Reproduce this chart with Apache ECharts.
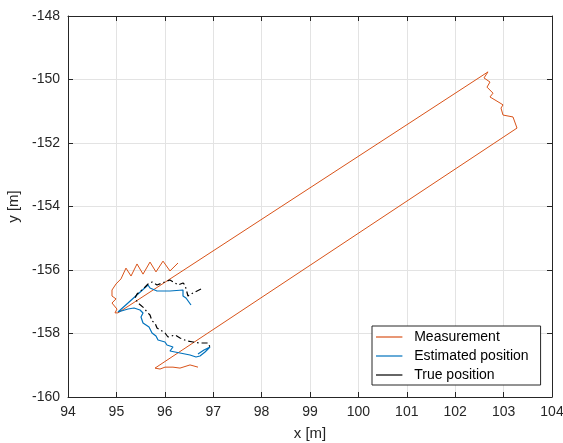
<!DOCTYPE html>
<html>
<head>
<meta charset="utf-8">
<script src="https://cdn.jsdelivr.net/npm/echarts@6/dist/echarts.min.js"></script>
<style>
  html, body { margin: 0; padding: 0; background: #fff; }
  #trackChart { width: 563px; height: 443px; }
</style>
</head>
<body>
<div id="trackChart"></div>
<script>
// measurement trace (x, y in metres)
const measX = [96.273, 96.107, 95.963, 95.818, 95.694, 95.550, 95.426, 95.302, 95.198, 95.095,
  94.992, 94.909, 94.909, 94.992, 94.909, 95.012, 94.971, 95.033,
  102.678, 102.595, 102.719, 102.657, 102.781, 102.719, 102.926, 102.988, 102.946, 102.988,
  103.194, 103.277, 103.277,
  95.798, 95.901, 96.004, 96.045, 96.169, 96.314, 96.521, 96.686]
const measY = [-155.78, -156.03, -155.72, -156.06, -155.75, -156.13, -155.81, -156.19, -155.94, -156.28,
  -156.44, -156.63, -156.82, -156.91, -157.04, -157.23, -157.35, -157.35,
  -149.76, -149.95, -150.08, -150.24, -150.43, -150.55, -150.74, -150.80, -150.90, -151.12,
  -151.18, -151.53, -151.59,
  -159.09, -159.12, -159.06, -159.09, -159.06, -159.09, -158.99, -159.06]

// estimated position
const estX = [96.541, 96.438, 96.376, 96.376, 96.107, 95.839, 95.694, 95.653, 95.033, 95.240,
  95.364, 95.488, 95.550, 95.508, 95.550, 95.674, 95.736, 95.818, 95.860, 96.004,
  96.045, 96.169, 96.107, 96.314, 96.521, 96.645, 96.727, 96.831, 96.934, 96.810, 96.686]
const estY = [-157.102, -156.882, -156.819, -156.630, -156.661, -156.661, -156.567, -156.472, -157.323, -157.228,
  -157.197, -157.260, -157.354, -157.480, -157.669, -157.795, -157.984, -158.079, -158.205, -158.268,
  -158.362, -158.425, -158.551, -158.614, -158.677, -158.740, -158.709, -158.583, -158.425, -158.520, -158.646]

// true position
const trueX = [96.748, 96.583, 96.479, 96.417, 96.376, 96.273, 96.211, 96.107, 95.942, 95.839,
  95.736, 95.653, 95.550, 95.426, 95.384, 95.446, 95.570, 95.632, 95.694, 95.736,
  95.798, 95.839, 95.942, 96.004, 96.066, 96.211, 96.314, 96.459, 96.583, 96.727, 96.893, 96.934]
const trueY = [-156.598, -156.724, -156.819, -156.472, -156.409, -156.472, -156.409, -156.315, -156.409, -156.472,
  -156.378, -156.441, -156.598, -156.756, -156.882, -157.039, -157.197, -157.323, -157.417, -157.606,
  -157.669, -157.827, -157.921, -157.984, -158.110, -158.047, -158.142, -158.236, -158.268, -158.299, -158.299, -158.425]

const seriesNames = ['Measurement', 'Estimated position', 'True position']

function pairs (xs, ys) {
  return xs.map((x, i) => [x, ys[i]])
}

const chart = echarts.init(document.getElementById('trackChart'))
const font = 'Liberation Sans, Arial, sans-serif'
const axisCol = '#262626'

const baseAxis = {
  axisLine: { show: true, onZero: false, lineStyle: { color: axisCol, width: 1 } },
  axisTick: { show: true, inside: true, length: 5, lineStyle: { color: axisCol } },
  axisLabel: { color: axisCol, fontSize: 14, fontFamily: font },
  nameTextStyle: { color: axisCol, fontSize: 15, fontFamily: font }
}

const options = {
  animation: false,
  backgroundColor: '#fff',
  grid: { left: 68, top: 16, right: 11, bottom: 46, containLabel: false, outerBoundsMode: 'none' },
  legend: {
    data: seriesNames,
    orient: 'vertical',
    left: 372,
    top: 326,
    itemWidth: 44,
    itemHeight: 1.2,
    itemGap: 5,
    padding: [4, 12, 3, 4],
    backgroundColor: '#fff',
    borderColor: axisCol,
    borderWidth: 1,
    borderRadius: 0,
    icon: 'path://M0,0 L44,0 L44,2 L0,2 Z',
    textStyle: { color: '#000', fontSize: 14, fontFamily: font, padding: [0, 0, 0, -2] }
  },
  xAxis: [
    Object.assign({}, baseAxis, {
      type: 'value', min: 94, max: 104, interval: 1, position: 'bottom',
      name: 'x [m]', nameLocation: 'middle', nameGap: 29,
      splitLine: { show: true, lineStyle: { color: '#e3e3e3' } }
    }),
    Object.assign({}, baseAxis, {
      type: 'value', min: 94, max: 104, interval: 1, position: 'top',
      axisLabel: { show: false }, splitLine: { show: false }
    })
  ],
  yAxis: [
    Object.assign({}, baseAxis, {
      type: 'value', min: -160, max: -148, interval: 2, position: 'left',
      name: 'y [m]', nameLocation: 'middle', nameGap: 27, nameRotate: 90,
      splitLine: { show: true, lineStyle: { color: '#e3e3e3' } }
    }),
    Object.assign({}, baseAxis, {
      type: 'value', min: -160, max: -148, interval: 2, position: 'right',
      axisLabel: { show: false }, splitLine: { show: false }
    })
  ],
  series: [
    {
      name: seriesNames[0], type: 'line', showSymbol: false, symbol: 'none',
      data: pairs(measX, measY),
      itemStyle: { color: '#D95319' },
      lineStyle: { color: '#D95319', width: 1 }
    },
    {
      name: seriesNames[1], type: 'line', showSymbol: false, symbol: 'none',
      data: pairs(estX, estY),
      itemStyle: { color: '#0072BD' },
      lineStyle: { color: '#0072BD', width: 1.2 }
    },
    {
      name: seriesNames[2], type: 'line', showSymbol: false, symbol: 'none',
      data: pairs(trueX, trueY),
      itemStyle: { color: '#000' },
      lineStyle: { color: '#000', width: 1.2, type: [6, 3, 1.5, 3] }
    }
  ]
}
chart.setOption(options)
</script>
</body>
</html>
